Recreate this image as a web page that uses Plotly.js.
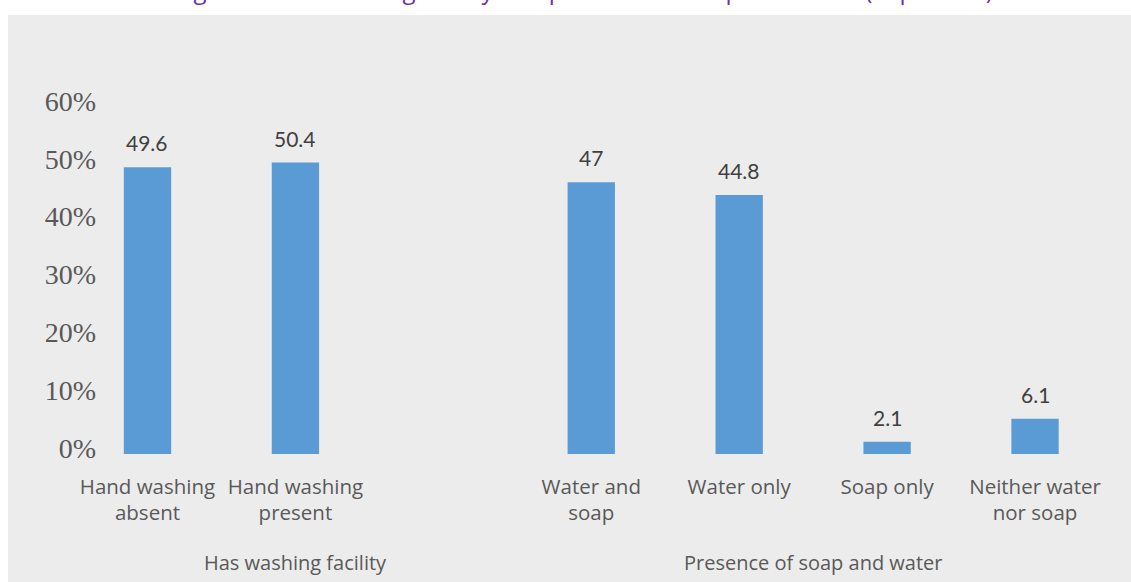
<!DOCTYPE html>
<html>
<head>
<meta charset="utf-8">
<script src="https://cdn.plot.ly/plotly-3.0.1.min.js"></script>
<style>
  html, body { margin: 0; padding: 0; background: #ffffff; }
  #chart { width: 1131px; height: 582px; }
</style>
</head>
<body>
<div id="chart"></div>
<script>
// ---- data ----
const categories = [
  "Hand washing<br>absent",
  "Hand washing<br>present",
  "Water and<br>soap",
  "Water only",
  "Soap only",
  "Neither water<br>nor soap"
];
const slots = [0, 1, 3, 4, 5, 6];           // slot 2 is the blank gap between groups
const values = [49.6, 50.4, 47, 44.8, 2.1, 6.1];
const valueLabels = ["49.6", "50.4", "47", "44.8", "2.1", "6.1"];
const groupLabels = ["Has washing facility", "Presence of soap and water"];
const groupCenters = [1, 4.5];
const yTicks = [0, 10, 20, 30, 40, 50, 60];
const yTickLabels = ["0%", "10%", "20%", "30%", "40%", "50%", "60%"];
const titleText = "Figure: Hand washing facility and presence of soap and water (in percent)";

// ---- styling ----
const barColor = "#5b9bd5";
const bgGray = "#ececec";
const textGray = "#595959";
const labelDark = "#404040";
const labelFont = "Lato, 'Open Sans', sans-serif";
const catFont = "'Open Sans', Lato, sans-serif";
const serifFont = "'Liberation Serif', 'DejaVu Serif', serif";

const trace = {
  type: "bar",
  x: slots,
  y: values,
  width: 0.32,
  marker: { color: barColor },
  hoverinfo: "skip",
  showlegend: false
};

const annotations = [];
values.forEach((v, i) => {
  annotations.push({
    x: slots[i], y: v, xref: "x", yref: "y",
    text: valueLabels[i], showarrow: false,
    yanchor: "bottom", yshift: 10,
    font: { family: labelFont, size: 21, color: labelDark }
  });
});
groupLabels.forEach((g, i) => {
  annotations.push({
    x: groupCenters[i], y: 0, xref: "x", yref: "paper",
    text: g, showarrow: false,
    yanchor: "middle", yshift: -108,
    font: { family: catFont, size: 20, color: textGray }
  });
});
// title (mostly cut off at the top edge of the picture)
annotations.push({
  x: 0.48, y: 1, xref: "paper", yref: "paper",
  text: titleText, showarrow: false,
  yanchor: "bottom", yshift: 99,
  font: { family: "'Open Sans', sans-serif", size: 24, color: "#7030a0" }
});

const layout = {
  width: 1131,
  height: 582,
  margin: { l: 100, r: 21.5, t: 107, b: 128, pad: 0 },
  paper_bgcolor: "#ffffff",
  plot_bgcolor: "rgba(0,0,0,0)",
  bargap: 0.68,
  xaxis: {
    type: "linear",
    range: [-0.321, 6.5],
    tickmode: "array",
    tickvals: slots,
    ticktext: categories,
    showgrid: false,
    zeroline: false,
    showline: false,
    ticks: "",
    ticklabelstandoff: 18,
    tickfont: { family: catFont, size: 20.5, color: textGray },
    fixedrange: true
  },
  yaxis: {
    range: [0, 60],
    tickmode: "array",
    tickvals: yTicks,
    ticktext: yTickLabels,
    showgrid: false,
    zeroline: false,
    showline: false,
    ticks: "",
    ticklabelshift: -6,
    ticklabelstandoff: 3,
    tickfont: { family: serifFont, size: 28, color: textGray },
    fixedrange: true
  },
  shapes: [{
    type: "rect", xref: "paper", yref: "paper", layer: "below",
    x0: (8 - 100) / 1009.5, x1: 1.1,
    y0: -0.5, y1: (454 - 15) / 347,
    fillcolor: bgGray, line: { width: 0 }
  }],
  annotations: annotations
};

Plotly.newPlot("chart", [trace], layout, { displayModeBar: false, staticPlot: true });
</script>
</body>
</html>
